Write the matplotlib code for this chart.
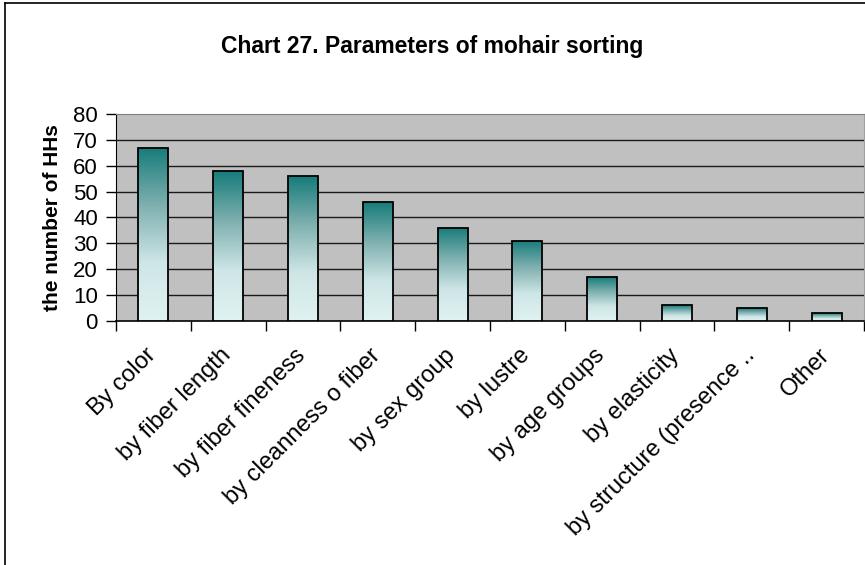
import numpy as np
import matplotlib
matplotlib.use("Agg")
import matplotlib.pyplot as plt
from matplotlib.colors import LinearSegmentedColormap
from matplotlib.patches import Rectangle
from matplotlib.transforms import ScaledTranslation

plt.rcParams['font.family'] = ['Liberation Sans', 'DejaVu Sans']

categories = ["By color", "by fiber length", "by fiber fineness",
              "by cleanness o fiber", "by sex group", "by lustre",
              "by age groups", "by elasticity", "by structure (presence ..",
              "Other"]
hh_counts = [67, 58, 56, 46, 36, 31, 17, 6, 5, 3]
y_ticks = [0, 10, 20, 30, 40, 50, 60, 70, 80]

fig = plt.figure(figsize=(8.65, 5.65), dpi=100)

# outer chart frame (left and top edges only are visible)
fig.add_artist(plt.Line2D([0.006, 0.006], [0, 0.995], color='black', lw=1.2,
                          transform=fig.transFigure))
fig.add_artist(plt.Line2D([0.006, 1.0], [0.995, 0.995], color='black', lw=1.2,
                          transform=fig.transFigure))

ax = fig.add_axes([0.1341, 0.4324, 0.8647, 0.3658])
ax.set_facecolor('#c0c0c0')

n = len(categories)
x = np.arange(n)
bar_w = 0.4

for yv in y_ticks[1:-1]:
    ax.axhline(yv, color='#1a1a1a', lw=1.0, zorder=1)

cmap = LinearSegmentedColormap.from_list('teal', ['#e0f2f2', '#cfe6e6', '#7fb0b0', '#167c7a'])
grad = np.linspace(0, 1, 256).reshape(-1, 1)

for xi, h in zip(x, hh_counts):
    x0 = xi - bar_w / 2
    rect = Rectangle((x0, 0), bar_w, h, facecolor='none', edgecolor='black',
                     lw=1.3, zorder=4)
    ax.add_patch(rect)
    im = ax.imshow(grad, cmap=cmap, origin='lower', aspect='auto',
                   extent=[x0, x0 + bar_w, 0, h], zorder=3, interpolation='bilinear')
    im.set_clip_path(rect)

ax.set_xlim(-0.5, n - 0.5)
ax.set_ylim(0, 80)

ax.set_yticks(y_ticks)
ax.set_yticklabels([str(v) for v in y_ticks], fontsize=16)
ax.tick_params(axis='y', direction='out', length=7, width=1, pad=6)

ax.set_xticks(x)
ax.set_xticklabels(categories, rotation=45, ha='right', rotation_mode='anchor', fontsize=17)
ax.tick_params(axis='x', length=0, pad=17)
shift = ScaledTranslation(-6 / 72, 0, fig.dpi_scale_trans)
for lbl in ax.get_xticklabels():
    lbl.set_transform(lbl.get_transform() + shift)
ax.set_xticks(np.arange(n + 1) - 0.5, minor=True)
ax.tick_params(axis='x', which='minor', direction='out', length=7, width=1)

ax.spines['left'].set_color('black')
ax.spines['bottom'].set_color('black')
ax.spines['bottom'].set_linewidth(1.2)
ax.spines['top'].set_color('#808080')
ax.spines['right'].set_color('#a0a0a0')

ax.set_ylabel("the number of HHs", fontsize=15, fontweight='bold', labelpad=8)

fig.text(0.5, 0.917, "Chart 27. Parameters of mohair sorting", ha='center',
         va='center', fontsize=16.5, fontweight='bold')

fig.savefig("out.png", dpi=100)
